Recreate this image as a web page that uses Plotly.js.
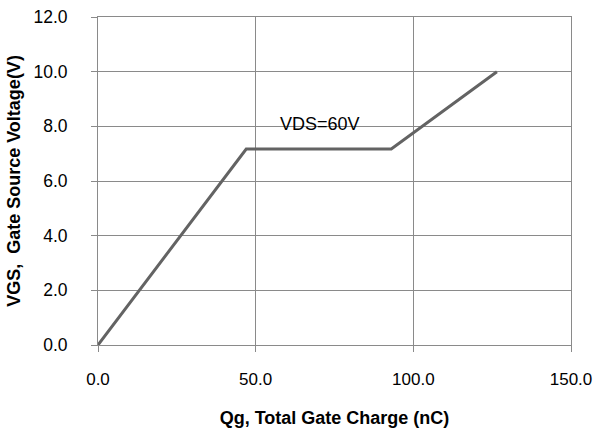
<!DOCTYPE html>
<html>
<head>
<meta charset="utf-8">
<script src="https://cdn.plot.ly/plotly-3.0.1.min.js"></script>
<style>html,body{margin:0;padding:0;background:#fff;}#chart{width:593px;height:434px;}</style>
</head>
<body>
<div id="chart"></div>
<script>
var qg = [0, 47, 93, 126.5];
var vgs = [0, 7.17, 7.17, 10.0];
var xTicks = [0, 50, 100, 150];
var xTickText = ["0.0", "50.0", "100.0", "150.0"];
var yTicks = [0, 2, 4, 6, 8, 10, 12];
var yTickText = ["0.0", "2.0", "4.0", "6.0", "8.0", "10.0", "12.0"];
var annText = "VDS=60V";
var annX = 70.5, annY = 8.1;

var grid = "#8a8a8a";
var trace = {
  x: qg, y: vgs, mode: "lines", type: "scatter",
  line: {color: "#636363", width: 3}, hoverinfo: "skip"
};
var layout = {
  width: 593, height: 434,
  margin: {l: 98, r: 22, t: 17, b: 89},
  paper_bgcolor: "#fff", plot_bgcolor: "#fff",
  showlegend: false,
  font: {family: "Liberation Sans, Arial, sans-serif", size: 18, color: "#000"},
  xaxis: {
    range: [0, 150], tickvals: xTicks, ticktext: xTickText,
    showgrid: true, gridcolor: grid, gridwidth: 1,
    showline: true, linecolor: grid, linewidth: 1, mirror: true,
    zeroline: false, ticks: "outside", ticklen: 6, tickcolor: grid,
    ticklabelstandoff: 13, ticklabeloverflow: "allow",
    tickfont: {size: 17},
    title: {text: "<b>Qg, Total Gate Charge (nC)</b>", font: {size: 18}, standoff: 22}
  },
  yaxis: {
    range: [0, 12], tickvals: yTicks, ticktext: yTickText,
    showgrid: true, gridcolor: grid, gridwidth: 1,
    showline: true, linecolor: grid, linewidth: 1, mirror: true,
    zeroline: false, ticks: "outside", ticklen: 6, tickcolor: grid,
    ticklabelstandoff: 20, ticklabeloverflow: "allow",
    tickfont: {size: 17.5},
    title: {text: "<b>VGS,  Gate Source Voltage(V)</b>", font: {size: 18}, standoff: 8}
  },
  annotations: [{x: annX, y: annY, xref: "x", yref: "y", text: annText, showarrow: false,
    font: {size: 18, color: "#000"}}]
};
Plotly.newPlot("chart", [trace], layout, {displayModeBar: false, staticPlot: true});
</script>
</body>
</html>
